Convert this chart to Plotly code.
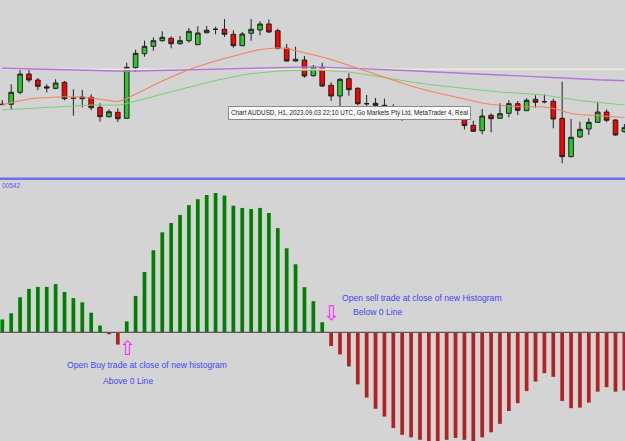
import plotly.graph_objects as go

# ---------------- data ----------------
bars = list(range(71))

opens = [0.64956,0.64957,0.65077,0.65260,0.65200,0.65132,0.65117,0.65177,0.65017,0.65013,
         0.65027,0.64927,0.64833,0.64877,0.64817,0.65323,0.65463,0.65537,0.65593,0.65617,
         0.65563,0.65593,0.65553,0.65673,0.65707,0.65707,0.65657,0.65543,0.65667,0.65700,
         0.65760,0.65693,0.65517,0.65390,0.65400,0.65243,0.65327,0.65147,0.65040,0.65213,
         0.65117,0.64963,0.64967,0.64947,0.64927,0.64920,0.64880,0.64900,0.64860,0.64865,
         0.64850,0.64870,0.64812,0.64747,0.64693,0.64847,0.64817,0.64867,0.64963,0.64893,
         0.65007,0.64983,0.64987,0.64817,0.64433,0.64630,0.64710,0.64777,0.64880,0.64800,
         0.64683]
highs = [0.65000,0.65157,0.65310,0.65320,0.65220,0.65157,0.65207,0.65190,0.65107,0.65100,
         0.65057,0.64967,0.64907,0.64917,0.65373,0.65503,0.65593,0.65627,0.65687,0.65637,
         0.65640,0.65720,0.65737,0.65740,0.65733,0.65810,0.65697,0.65680,0.65810,0.65787,
         0.65803,0.65713,0.65560,0.65533,0.65440,0.65350,0.65373,0.65177,0.65217,0.65267,
         0.65127,0.65050,0.65020,0.65015,0.64957,0.64940,0.64920,0.64920,0.64890,0.64890,
         0.64900,0.64890,0.64850,0.64793,0.64910,0.64867,0.64967,0.64997,0.64990,0.65017,
         0.65047,0.65057,0.65013,0.65183,0.64810,0.64783,0.64817,0.64983,0.64907,0.64805,
         0.64760]
lows = [0.64945,0.64907,0.65057,0.65177,0.65097,0.65077,0.65107,0.64997,0.64843,0.64927,
        0.64897,0.64783,0.64823,0.64780,0.64813,0.65280,0.65433,0.65493,0.65583,0.65517,
        0.65553,0.65573,0.65551,0.65667,0.65657,0.65630,0.65523,0.65537,0.65593,0.65647,
        0.65670,0.65507,0.65383,0.65385,0.65223,0.65233,0.65130,0.64990,0.64927,0.65043,
        0.64947,0.64943,0.64917,0.64900,0.64880,0.64793,0.64840,0.64830,0.64800,0.64800,
        0.64830,0.64820,0.64705,0.64680,0.64657,0.64677,0.64810,0.64827,0.64850,0.64890,
        0.64923,0.64967,0.64717,0.64367,0.64427,0.64623,0.64650,0.64770,0.64777,0.64643,
        0.64675]
closes = [0.64956,0.65077,0.65260,0.65200,0.65137,0.65120,0.65170,0.65013,0.65017,0.65030,
          0.64923,0.64833,0.64883,0.64813,0.65327,0.65467,0.65537,0.65593,0.65627,0.65563,
          0.65593,0.65687,0.65670,0.65697,0.65707,0.65657,0.65543,0.65660,0.65707,0.65760,
          0.65680,0.65517,0.65390,0.65407,0.65240,0.65327,0.65140,0.65040,0.65207,0.65103,
          0.64963,0.64963,0.64947,0.64927,0.64927,0.64880,0.64900,0.64860,0.64865,0.64850,
          0.64870,0.64840,0.64745,0.64687,0.64840,0.64813,0.64863,0.64963,0.64897,0.64997,
          0.64977,0.64983,0.64810,0.64433,0.64627,0.64707,0.64777,0.64880,0.64797,0.64650,
          0.64723]

ma_fast = [0.64955,0.64975,0.64995,0.65010,0.65020,0.65025,0.65030,0.65033,0.65032,0.65030,
           0.65020,0.65010,0.64995,0.64983,0.65015,0.65060,0.65100,0.65145,0.65190,0.65230,
           0.65270,0.65305,0.65335,0.65365,0.65390,0.65415,0.65440,0.65460,0.65485,0.65505,
           0.65517,0.65522,0.65515,0.65495,0.65475,0.65455,0.65430,0.65405,0.65375,0.65350,
           0.65320,0.65285,0.65255,0.65225,0.65200,0.65170,0.65140,0.65115,0.65090,0.65070,
           0.65050,0.65030,0.65005,0.64985,0.64970,0.64955,0.64945,0.64940,0.64935,0.64933,
           0.64932,0.64930,0.64915,0.64890,0.64865,0.64855,0.64850,0.64843,0.64837,0.64830,
           0.64825]
ma_mid = [0.64900,0.64905,0.64912,0.64918,0.64924,0.64930,0.64935,0.64940,0.64945,0.64948,
          0.64950,0.64950,0.64950,0.64948,0.64965,0.64990,0.65015,0.65035,0.65060,0.65083,
          0.65105,0.65130,0.65152,0.65173,0.65195,0.65215,0.65235,0.65250,0.65262,0.65273,
          0.65282,0.65290,0.65294,0.65298,0.65300,0.65300,0.65298,0.65293,0.65287,0.65280,
          0.65268,0.65255,0.65240,0.65225,0.65210,0.65195,0.65180,0.65167,0.65155,0.65145,
          0.65135,0.65125,0.65115,0.65105,0.65095,0.65087,0.65080,0.65075,0.65070,0.65063,
          0.65057,0.65050,0.65035,0.65020,0.65005,0.64995,0.64985,0.64975,0.64965,0.64958,
          0.64950]
ma_slow = [0.65317,0.65315,0.65313,0.65310,0.65307,0.65304,0.65301,0.65299,0.65297,0.65294,
           0.65291,0.65288,0.65287,0.65287,0.65288,0.65290,0.65292,0.65294,0.65296,0.65299,
           0.65301,0.65304,0.65307,0.65310,0.65312,0.65315,0.65318,0.65320,0.65322,0.65324,
           0.65326,0.65328,0.65330,0.65331,0.65332,0.65331,0.65329,0.65326,0.65323,0.65320,
           0.65316,0.65312,0.65308,0.65304,0.65300,0.65296,0.65292,0.65288,0.65284,0.65280,
           0.65276,0.65273,0.65270,0.65266,0.65262,0.65258,0.65254,0.65250,0.65245,0.65240,
           0.65236,0.65232,0.65227,0.65222,0.65217,0.65212,0.65207,0.65202,0.65198,0.65195,
           0.65193]
level_price = 0.65307

histogram = [0.00046,0.00068,0.00125,0.00155,0.00162,0.00162,0.00172,0.00144,0.00122,0.00107,
             0.00070,0.00024,-0.00007,-0.00044,0.00039,0.00130,0.00215,0.00293,0.00357,0.00390,
             0.00419,0.00454,0.00475,0.00490,0.00497,0.00488,0.00452,0.00444,0.00440,0.00444,
             0.00426,0.00372,0.00300,0.00243,0.00161,0.00111,0.00036,-0.00049,-0.00079,-0.00122,
             -0.00186,-0.00233,-0.00273,-0.00301,-0.00342,-0.00366,-0.00375,-0.00384,-0.00395,-0.00395,
             -0.00384,-0.00377,-0.00384,-0.00395,-0.00375,-0.00357,-0.00327,-0.00281,-0.00253,-0.00210,
             -0.00176,-0.00146,-0.00159,-0.00245,-0.00271,-0.00269,-0.00251,-0.00212,-0.00196,-0.00212,
             -0.00208]

info_text = "Chart AUDUSD, H1, 2023.09.03 22:10 UTC, Go Markets Pty Ltd, MetaTrader 4, Real"
sell_text = "Open sell trade at close of new Histogram"
sell_text2 = "Below 0 Line"
buy_text = "Open Buy trade at close of new histogram"
buy_text2 = "Above 0 Line"
scale_text = "00542"

# ---------------- figure ----------------
BG = "#d4d4d4"
fig = go.Figure()

fig.add_trace(go.Scatter(x=bars, y=[level_price]*len(bars), mode="lines",
                         line=dict(color="#efe9dc", width=1.5), hoverinfo="skip",
                         xaxis="x", yaxis="y"))
fig.add_trace(go.Scatter(x=bars, y=ma_slow, mode="lines",
                         line=dict(color="#b574dc", width=1.4), hoverinfo="skip",
                         xaxis="x", yaxis="y"))
fig.add_trace(go.Scatter(x=bars, y=ma_mid, mode="lines",
                         line=dict(color="#78d078", width=1.1), hoverinfo="skip",
                         xaxis="x", yaxis="y"))
fig.add_trace(go.Scatter(x=bars, y=ma_fast, mode="lines",
                         line=dict(color="#f2825a", width=1.1), hoverinfo="skip",
                         xaxis="x", yaxis="y"))

fig.add_trace(go.Candlestick(
    x=bars, open=opens, high=highs, low=lows, close=closes,
    increasing=dict(line=dict(color="#202020", width=1), fillcolor="#2ec52e"),
    decreasing=dict(line=dict(color="#202020", width=1), fillcolor="#ff0000"),
    whiskerwidth=0, hoverinfo="skip", xaxis="x", yaxis="y"))

hist_colors = ["#008000" if v >= 0 else "#b22222" for v in histogram]
fig.add_trace(go.Bar(x=bars, y=histogram, width=0.42,
                     marker=dict(color=hist_colors, line=dict(width=0)),
                     hoverinfo="skip", xaxis="x2", yaxis="y2"))

xr = [-0.259, 70.07]
fig.update_layout(
    width=625, height=441, margin=dict(l=0, r=0, t=0, b=0),
    paper_bgcolor=BG, plot_bgcolor=BG, showlegend=False, boxgap=0.26,
    xaxis=dict(domain=[0, 1], range=xr, visible=False, rangeslider=dict(visible=False),
               anchor="y", fixedrange=True),
    yaxis=dict(domain=[1 - 177/441, 1], range=[0.64230, 0.66000], visible=False,
               anchor="x"),
    xaxis2=dict(domain=[0, 1], range=xr, visible=False, anchor="y2"),
    yaxis2=dict(domain=[0, 261/441], range=[-0.003881, 0.005437], visible=False,
                anchor="x2"),
)

# separator and zero line
fig.add_shape(type="line", xref="paper", yref="paper", x0=0, x1=1,
              y0=(441-178.8)/441, y1=(441-178.8)/441,
              line=dict(color="#6e6ef0", width=2.5))
fig.add_shape(type="line", xref="paper", yref="y2", x0=0, x1=1, y0=0, y1=0,
              line=dict(color="#5a5a5a", width=1.2), layer="above")

# info label
fig.add_annotation(xref="paper", yref="paper", x=349/625, y=(441-113)/441,
                   text=info_text, showarrow=False, xanchor="center", yanchor="middle",
                   font=dict(family="Liberation Sans", size=6.3, color="#1a1a1a"),
                   bgcolor="#fbfbfb", bordercolor="#8a8a8a", borderwidth=1, borderpad=2)

blue = "#4646f2"
tf = dict(family="Liberation Sans, Arial", size=8.6, color=blue)
for txt, x, y in [(sell_text, 340, 297.7), (sell_text2, 350.7, 311.7),
                  (buy_text, 65, 365), (buy_text2, 101, 380.7)]:
    fig.add_annotation(xref="paper", yref="paper", x=x/625, y=(441-y)/441, text=txt,
                       showarrow=False, xanchor="left", yanchor="middle", font=tf)

fig.add_annotation(xref="paper", yref="paper", x=0, y=(441-185)/441, text=scale_text,
                   showarrow=False, xanchor="left", yanchor="middle",
                   font=dict(family="Liberation Sans", size=6.5, color="#5a5ae6"))

# arrows
fig.add_annotation(xref="paper", yref="paper", x=127/625, y=(441-347.5)/441, text="⇧",
                   showarrow=False, xanchor="center", yanchor="middle",
                   font=dict(family="DejaVu Sans", size=20, color="#ff22ff"))
fig.add_annotation(xref="paper", yref="paper", x=331.2/625, y=(441-313)/441, text="⇩",
                   showarrow=False, xanchor="center", yanchor="middle",
                   font=dict(family="DejaVu Sans", size=20, color="#ff22ff"))

fig.write_html("out.html", config=dict(displayModeBar=False))
